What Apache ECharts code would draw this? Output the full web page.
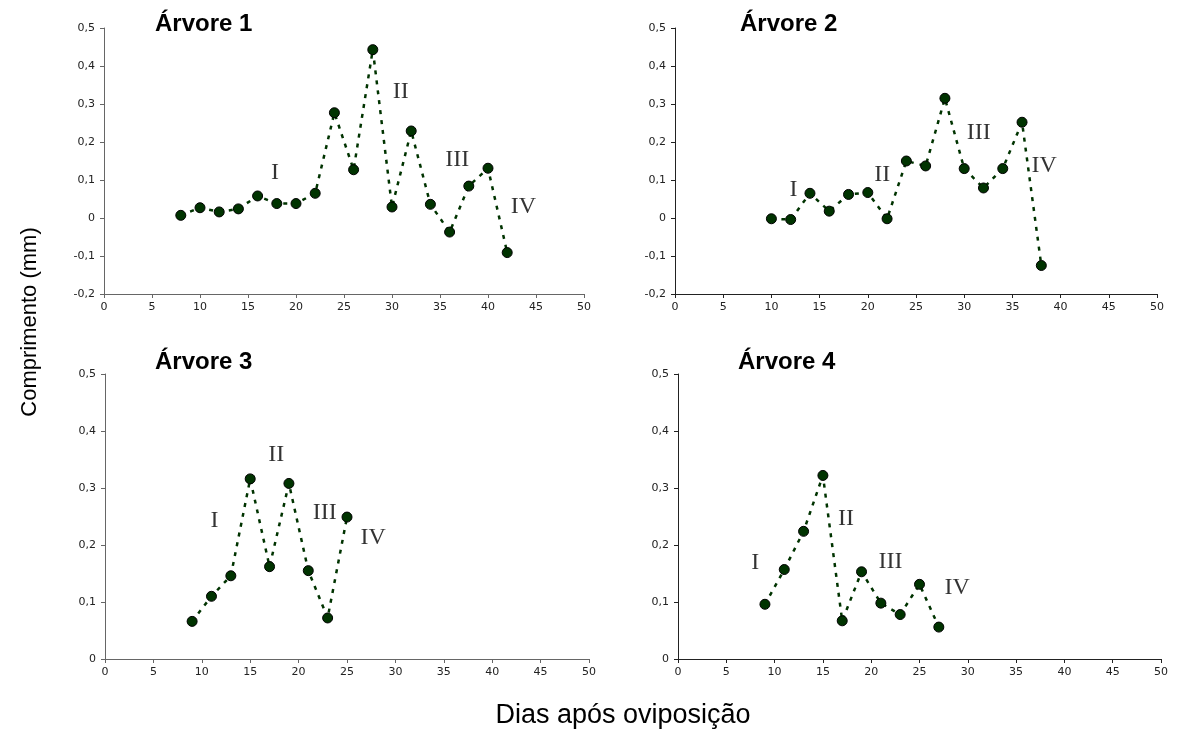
<!DOCTYPE html>
<html>
<head>
<meta charset="utf-8">
<script src="https://cdn.jsdelivr.net/npm/echarts@6/dist/echarts.min.js"></script>
<style>
html,body{margin:0;padding:0;background:#fff;}
#chart{width:1178px;height:753px;}
</style>
</head>
<body>
<div id="chart"></div>
<script>
// ---- data ----
const days1 = [8,10,12,14,16,18,20,22,24,26,28,30,32,34,36,38,40,42];
const len1  = [0.007,0.027,0.016,0.024,0.058,0.038,0.038,0.065,0.277,0.127,0.443,0.029,0.229,0.036,-0.037,0.084,0.131,-0.091];
const days2 = [10,12,14,16,18,20,22,24,26,28,30,32,34,36,38];
const len2  = [-0.002,-0.004,0.065,0.018,0.062,0.067,-0.002,0.150,0.137,0.315,0.130,0.079,0.130,0.252,-0.125];
const days3 = [9,11,13,15,17,19,21,23,25];
const len3  = [0.066,0.110,0.146,0.316,0.162,0.308,0.155,0.072,0.249];
const days4 = [9,11,13,15,17,19,21,23,25,27];
const len4  = [0.096,0.157,0.224,0.322,0.067,0.153,0.098,0.078,0.131,0.056];
const panelTitles = ['Árvore 1','Árvore 2','Árvore 3','Árvore 4'];
const phaseLabels = ['I','II','III','IV'];
// phase label anchors (data units: day, length)
const notes1 = [[17.8,0.118],[30.9,0.332],[36.8,0.153],[43.7,0.029]];
const notes2 = [[12.3,0.075],[21.5,0.115],[31.5,0.225],[38.3,0.137]];
const notes3 = [[11.3,0.242],[17.7,0.359],[22.7,0.257],[27.7,0.213]];
const notes4 = [[8.0,0.169],[17.4,0.246],[22.0,0.170],[28.9,0.125]];
const xLabel = 'Dias após oviposição';
const yLabel = 'Comprimento (mm)';

// ---- layout / style ----
const grids = [
  {left:104, top:28,  width:480, height:266},
  {left:675, top:28,  width:482, height:266},
  {left:105, top:374, width:484, height:285},
  {left:678, top:374, width:483, height:285}
];
const yRanges = [[-0.2,0.5],[-0.2,0.5],[0,0.5],[0,0.5]];
const titlePos = [[155,12],[740,12],[155,350],[738,350]];
const axisColors = ['#666','#222','#666','#222'];
const dark = '#003300';
const sans = '"Liberation Sans", Arial, sans-serif';
const tickFont = '"DejaVu Sans", "Liberation Sans", sans-serif';

const allDays = [days1,days2,days3,days4];
const allLen = [len1,len2,len3,len4];
const allNotes = [notes1,notes2,notes3,notes4];

function fmt(v){
  const r = Math.round(v*10)/10;
  return String(r).replace('.',',');
}

const xAxes = [], yAxes = [], series = [], titles = [];
for (let i=0;i<4;i++){
  xAxes.push({
    type:'value', gridIndex:i, min:0, max:50, interval:5,
    axisLine:{show:true, onZero:false, lineStyle:{color:axisColors[i], width:1}},
    axisTick:{show:true, length:4, lineStyle:{color:axisColors[i]}},
    splitLine:{show:false},
    axisLabel:{fontFamily:tickFont, fontSize:11, color:'#222', margin:8}
  });
  yAxes.push({
    type:'value', gridIndex:i, min:yRanges[i][0], max:yRanges[i][1], interval:0.1,
    axisLine:{show:true, onZero:false, lineStyle:{color:axisColors[i], width:1}},
    axisTick:{show:true, length:4, lineStyle:{color:axisColors[i]}},
    splitLine:{show:false},
    axisLabel:{fontFamily:tickFont, fontSize:11, color:'#222', margin:9, formatter:fmt}
  });
  series.push({
    type:'line', xAxisIndex:i, yAxisIndex:i,
    data: allDays[i].map((d,k)=>[d, allLen[i][k]]),
    symbol:'circle', symbolSize:10,
    itemStyle:{color:dark, borderColor:'#000', borderWidth:1},
    lineStyle:{color:dark, width:2.5, type:[4,6]},
    z:3, silent:true, animation:false
  });
  series.push({
    type:'scatter', xAxisIndex:i, yAxisIndex:i,
    data: allNotes[i].map((p,k)=>({value:p, name:phaseLabels[k]})),
    symbolSize:1, itemStyle:{color:'rgba(0,0,0,0)'},
    label:{show:true, position:'inside', formatter:(p)=>p.name,
      fontFamily:'"Liberation Serif", "Times New Roman", serif', fontSize:24, color:'#000'},
    silent:true, animation:false, z:4
  });
  titles.push({
    text: panelTitles[i], left:titlePos[i][0], top:titlePos[i][1], padding:0,
    textStyle:{fontFamily:sans, fontSize:24, fontWeight:'bold', color:'#000'}
  });
}

const chart = echarts.init(document.getElementById('chart'), null, {renderer:'canvas'});
chart.setOption({
  backgroundColor:'#fff',
  animation:false,
  title: titles,
  grid: grids,
  xAxis: xAxes,
  yAxis: yAxes,
  series: series,
  graphic: [
    {type:'text', x:30, y:322, rotation:Math.PI/2,
     style:{text:yLabel, font:'22px "Liberation Sans", Arial, sans-serif', fill:'#000', align:'center', verticalAlign:'middle'}},
    {type:'text', x:623, y:716,
     style:{text:xLabel, font:'27px "Liberation Sans", Arial, sans-serif', fill:'#000', align:'center', verticalAlign:'middle'}}
  ]
});
</script>
</body>
</html>
